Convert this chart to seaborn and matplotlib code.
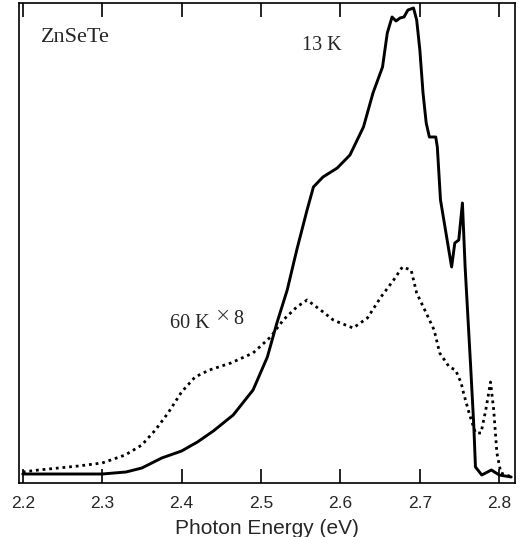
import matplotlib
matplotlib.use("Agg")
import matplotlib.pyplot as plt
import seaborn as sns
import pandas as pd

# 13 K spectrum (solid)
energy_13k = [2.200, 2.250, 2.300, 2.330, 2.350, 2.375, 2.400, 2.420, 2.440, 2.465,
              2.490, 2.508, 2.520, 2.533, 2.545, 2.558, 2.566, 2.578, 2.596, 2.612,
              2.629, 2.641, 2.653, 2.659, 2.665, 2.670, 2.675, 2.680, 2.685, 2.692,
              2.696, 2.700, 2.704, 2.708, 2.712, 2.720, 2.722, 2.726, 2.740, 2.744,
              2.749, 2.7536, 2.757, 2.764, 2.768, 2.770, 2.778, 2.790, 2.800, 2.815]
pl_13k = [9, 9, 9, 11, 15, 25, 32, 41, 52, 68,
          93, 126, 160, 193, 233, 273, 296, 306, 315, 328,
          356, 390, 416, 450, 466, 462, 465, 466, 473, 475,
          463, 433, 390, 360, 346, 346, 336, 283, 216, 240,
          243, 280, 216, 116, 56, 16, 8, 13, 8, 6]

# 60 K spectrum x8 (dotted)
energy_60k = [2.200, 2.220, 2.245, 2.270, 2.300, 2.329, 2.350, 2.367, 2.383, 2.400,
              2.417, 2.435, 2.462, 2.490, 2.512, 2.528, 2.545, 2.558, 2.575, 2.591,
              2.600, 2.616, 2.634, 2.651, 2.667, 2.678, 2.689, 2.696, 2.708, 2.718,
              2.725, 2.737, 2.745, 2.752, 2.755, 2.762, 2.770, 2.777, 2.783, 2.789,
              2.793, 2.797, 2.802, 2.816]
pl_60k = [11, 13, 15, 17, 20, 28, 38, 53, 70, 91,
          106, 113, 120, 130, 146, 163, 176, 183, 173, 163,
          160, 155, 165, 186, 203, 216, 213, 190, 170, 153,
          130, 116, 113, 100, 90, 70, 50, 50, 73, 101,
          73, 30, 10, 6]

xticks = [2.2, 2.3, 2.4, 2.5, 2.6, 2.7, 2.8]
xticklabels = ["2.2", "2.3", "2.4", "2.5", "2.6", "2.7", "2.8"]

sns.set_style("white")
plt.rcParams['font.family'] = ['Liberation Sans', 'DejaVu Sans']

fig = plt.figure(figsize=(5.22, 5.37), dpi=100)
ax = fig.add_axes([19/522, 1 - 483/537, (515-19)/522, (483-3)/537])

df13 = pd.DataFrame({"E": energy_13k, "I": pl_13k})
df60 = pd.DataFrame({"E": energy_60k, "I": pl_60k})

sns.lineplot(data=df13, x="E", y="I", ax=ax, color="black", linewidth=2.1,
             estimator=None, sort=False)
sns.lineplot(data=df60, x="E", y="I", ax=ax, color="black", linewidth=2.0,
             estimator=None, sort=False, linestyle=(0, (1, 1.4)),
             dash_capstyle="butt")

ax.set_xlim(2.1953, 2.8198)
ax.set_ylim(0, 480)
ax.set_xticks(xticks)
ax.set_xticklabels(xticklabels, fontsize=12.5)
ax.set_yticks([])
ax.tick_params(axis="x", direction="in", length=10, width=1.2, top=True,
               bottom=True, pad=9, color="black")
ax.set_xlabel("Photon Energy (eV)", fontsize=15, labelpad=6)
ax.set_ylabel("")
for s in ax.spines.values():
    s.set_visible(True)
    s.set_color("black")
    s.set_linewidth(1.2)

serif = ['Liberation Serif', 'DejaVu Serif']
ax.text((41 - 19) / 496, (483 - 38) / 480, "ZnSeTe", family=serif, fontsize=16,
        va="center", ha="left", transform=ax.transAxes)
ax.text((302 - 19) / 496, (483 - 46) / 480, "13 K", family=serif, fontsize=14.5,
        va="center", ha="left", transform=ax.transAxes)
ax.text((170 - 19) / 496, (483 - 323) / 480, "60 K", family=serif, fontsize=14.5,
        va="center", ha="left", transform=ax.transAxes)
ax.text((215 - 19) / 496, (483 - 316) / 480, "\u00d7", family=['DejaVu Sans'],
        fontsize=14, fontweight="light", va="center", ha="left",
        transform=ax.transAxes)
ax.text((233 - 19) / 496, (483 - 319) / 480, "8", family=serif, fontsize=14.5,
        va="center", ha="left", transform=ax.transAxes)

fig.savefig("out.png", dpi=100)
